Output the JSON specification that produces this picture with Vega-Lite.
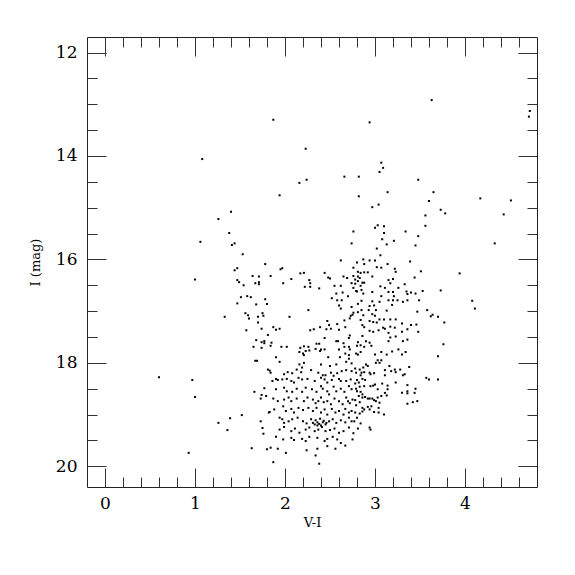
{
"$schema": "https://vega.github.io/schema/vega-lite/v6.json",
"width": 450, "height": 450,
"autosize": "none",
"padding": {"left": 87, "top": 37, "right": 38, "bottom": 88},
"background": "white",
"config": {"view": {"stroke": "#222", "strokeWidth": 1}, "font": "DejaVu Serif",
 "axis": {"grid": false, "domain": false, "labelFont": "DejaVu Serif", "titleFont": "DejaVu Serif", "tickColor": "#333", "tickWidth": 1, "labelColor": "black", "titleColor": "black", "titleFontWeight": "normal", "labelFlush": false, "labelOverlap": false}},
"data": {"values": [
{"vi":1.87,"mag":13.30},{"vi":2.23,"mag":13.86},{"vi":1.08,"mag":14.06},{"vi":2.24,"mag":14.46},{"vi":2.16,"mag":14.52},{"vi":1.94,"mag":14.76},{"vi":1.40,"mag":15.08},{"vi":1.26,"mag":15.22},{"vi":1.38,"mag":15.49},{"vi":1.06,"mag":15.66},{"vi":1.41,"mag":15.72},{"vi":1.44,"mag":15.69},
{"vi":2.94,"mag":13.35},{"vi":3.07,"mag":14.13},{"vi":3.09,"mag":14.23},{"vi":3.05,"mag":14.31},{"vi":2.66,"mag":14.40},{"vi":2.82,"mag":14.40},{"vi":3.48,"mag":14.46},{"vi":3.14,"mag":14.70},{"vi":3.65,"mag":14.70},{"vi":3.60,"mag":14.87},{"vi":2.82,"mag":14.78},{"vi":3.04,"mag":14.94},{"vi":2.97,"mag":14.99},{"vi":3.56,"mag":15.15},{"vi":3.56,"mag":15.35},{"vi":3.03,"mag":15.34},{"vi":3.00,"mag":15.39},{"vi":3.10,"mag":15.36},{"vi":2.76,"mag":15.46},{"vi":3.10,"mag":15.49},{"vi":3.34,"mag":15.46},{"vi":3.48,"mag":15.55},{"vi":2.74,"mag":15.69},{"vi":3.08,"mag":15.61},{"vi":3.21,"mag":15.64},{"vi":3.13,"mag":15.71},{"vi":3.45,"mag":15.73},{"vi":3.02,"mag":15.79},
{"vi":3.63,"mag":12.92},{"vi":4.72,"mag":13.13},{"vi":4.71,"mag":13.24},{"vi":4.17,"mag":14.82},{"vi":4.51,"mag":14.86},{"vi":3.73,"mag":15.04},{"vi":3.78,"mag":15.11},{"vi":4.43,"mag":15.13},{"vi":4.33,"mag":15.69},{"vi":3.94,"mag":16.27},{"vi":3.73,"mag":16.60},{"vi":4.08,"mag":16.80},{"vi":4.11,"mag":16.95},{"vi":3.64,"mag":17.07},{"vi":3.62,"mag":17.10},{"vi":3.70,"mag":17.11},{"vi":3.77,"mag":17.22},
{"vi":1.53,"mag":15.90},{"vi":1.78,"mag":16.09},{"vi":1.47,"mag":16.17},{"vi":1.44,"mag":16.21},{"vi":1.00,"mag":16.39},{"vi":1.64,"mag":16.32},{"vi":1.71,"mag":16.33},{"vi":1.47,"mag":16.40},{"vi":1.49,"mag":16.44},{"vi":1.67,"mag":16.46},{"vi":1.71,"mag":16.44},{"vi":1.71,"mag":16.48},{"vi":1.54,"mag":16.50},{"vi":1.51,"mag":16.73},{"vi":1.58,"mag":16.71},{"vi":1.62,"mag":16.73},{"vi":1.78,"mag":16.77},{"vi":1.47,"mag":16.85},{"vi":1.68,"mag":16.87},{"vi":1.80,"mag":16.86},{"vi":1.56,"mag":17.04},{"vi":1.59,"mag":17.08},{"vi":1.33,"mag":17.11},{"vi":1.60,"mag":17.14},{"vi":1.70,"mag":17.11},{"vi":1.75,"mag":17.04},{"vi":1.76,"mag":17.09},{"vi":1.70,"mag":17.22},{"vi":1.57,"mag":17.37},{"vi":1.74,"mag":17.34},{"vi":1.81,"mag":17.46},{"vi":1.68,"mag":17.56},{"vi":1.74,"mag":17.60},{"vi":1.77,"mag":17.58},{"vi":1.77,"mag":17.62},{"vi":1.65,"mag":17.69},{"vi":1.74,"mag":17.71},
{"vi":2.62,"mag":16.02},{"vi":2.80,"mag":16.06},{"vi":1.95,"mag":16.19},{"vi":1.97,"mag":16.17},{"vi":2.76,"mag":16.16},{"vi":2.81,"mag":16.24},{"vi":1.84,"mag":16.32},{"vi":2.17,"mag":16.27},{"vi":2.21,"mag":16.26},{"vi":2.44,"mag":16.26},{"vi":2.48,"mag":16.35},{"vi":2.50,"mag":16.37},{"vi":2.65,"mag":16.33},{"vi":2.69,"mag":16.36},{"vi":2.76,"mag":16.32},{"vi":2.81,"mag":16.33},{"vi":2.07,"mag":16.38},{"vi":2.27,"mag":16.40},{"vi":2.78,"mag":16.39},{"vi":2.81,"mag":16.42},{"vi":1.98,"mag":16.46},{"vi":2.28,"mag":16.46},{"vi":2.74,"mag":16.46},{"vi":2.78,"mag":16.47},{"vi":2.22,"mag":16.53},{"vi":2.28,"mag":16.53},{"vi":2.38,"mag":16.56},{"vi":2.55,"mag":16.51},{"vi":2.62,"mag":16.51},{"vi":2.76,"mag":16.55},{"vi":2.79,"mag":16.61},{"vi":2.80,"mag":16.62},{"vi":2.57,"mag":16.66},{"vi":2.64,"mag":16.64},{"vi":2.70,"mag":16.71},{"vi":2.52,"mag":16.75},{"vi":2.58,"mag":16.79},{"vi":2.63,"mag":16.79},{"vi":2.81,"mag":16.86},{"vi":2.60,"mag":16.89},{"vi":2.62,"mag":16.95},{"vi":2.74,"mag":16.92},{"vi":2.26,"mag":16.98},{"vi":2.76,"mag":17.03},{"vi":2.81,"mag":17.02},{"vi":2.05,"mag":17.11},{"vi":2.73,"mag":17.09},{"vi":2.75,"mag":17.07},{"vi":2.47,"mag":17.19},{"vi":2.66,"mag":17.18},{"vi":2.72,"mag":17.14},{"vi":2.58,"mag":17.25},{"vi":2.49,"mag":17.27},{"vi":2.39,"mag":17.31},{"vi":2.67,"mag":17.31},{"vi":1.87,"mag":17.31},{"vi":1.90,"mag":17.36},{"vi":1.94,"mag":17.34},{"vi":2.32,"mag":17.35},{"vi":2.28,"mag":17.37},{"vi":2.46,"mag":17.35},{"vi":2.51,"mag":17.34},{"vi":2.60,"mag":17.36},{"vi":2.72,"mag":17.47},{"vi":2.71,"mag":17.52},{"vi":2.44,"mag":17.52},{"vi":2.57,"mag":17.58},{"vi":2.59,"mag":17.58},{"vi":1.85,"mag":17.61},{"vi":2.35,"mag":17.63},{"vi":2.38,"mag":17.63},{"vi":2.65,"mag":17.62},{"vi":2.81,"mag":17.60},{"vi":1.84,"mag":17.67},{"vi":1.96,"mag":17.69},{"vi":2.02,"mag":17.69},{"vi":2.17,"mag":17.71},{"vi":2.21,"mag":17.68},{"vi":2.26,"mag":17.69},{"vi":2.34,"mag":17.73},{"vi":2.40,"mag":17.74},{"vi":2.44,"mag":17.74},{"vi":2.60,"mag":17.74},{"vi":2.66,"mag":17.69},{"vi":2.71,"mag":17.69},{"vi":2.72,"mag":17.74},{"vi":2.80,"mag":17.67},{"vi":1.90,"mag":17.89},{"vi":2.48,"mag":17.89},{"vi":2.61,"mag":17.89},
{"vi":3.06,"mag":15.92},{"vi":3.39,"mag":16.04},{"vi":2.87,"mag":16.00},{"vi":2.94,"mag":16.02},{"vi":2.88,"mag":16.09},{"vi":3.00,"mag":16.02},{"vi":3.02,"mag":16.15},{"vi":3.07,"mag":16.16},{"vi":3.14,"mag":16.09},{"vi":3.22,"mag":16.18},{"vi":3.23,"mag":16.24},{"vi":3.51,"mag":16.23},{"vi":2.84,"mag":16.26},{"vi":2.88,"mag":16.25},{"vi":2.92,"mag":16.25},{"vi":2.97,"mag":16.33},{"vi":3.15,"mag":16.40},{"vi":3.17,"mag":16.46},{"vi":3.20,"mag":16.38},{"vi":3.44,"mag":16.35},{"vi":3.33,"mag":16.48},{"vi":2.83,"mag":16.36},{"vi":2.86,"mag":16.45},{"vi":2.88,"mag":16.45},{"vi":2.84,"mag":16.51},{"vi":2.85,"mag":16.59},{"vi":2.87,"mag":16.66},{"vi":2.97,"mag":16.63},{"vi":3.06,"mag":16.52},{"vi":3.11,"mag":16.55},{"vi":3.15,"mag":16.63},{"vi":3.20,"mag":16.63},{"vi":3.26,"mag":16.55},{"vi":3.36,"mag":16.67},{"vi":3.40,"mag":16.64},{"vi":3.35,"mag":16.62},{"vi":3.45,"mag":16.66},{"vi":3.53,"mag":16.61},{"vi":3.07,"mag":16.71},{"vi":3.15,"mag":16.79},{"vi":3.20,"mag":16.79},{"vi":3.21,"mag":16.71},{"vi":3.25,"mag":16.79},{"vi":3.31,"mag":16.82},{"vi":3.36,"mag":16.79},{"vi":3.49,"mag":16.79},{"vi":3.05,"mag":16.82},{"vi":2.97,"mag":16.81},{"vi":2.85,"mag":16.80},{"vi":2.99,"mag":16.89},{"vi":2.94,"mag":16.90},{"vi":3.01,"mag":16.98},{"vi":2.85,"mag":16.98},{"vi":2.93,"mag":16.98},{"vi":3.13,"mag":16.99},{"vi":3.19,"mag":16.88},{"vi":3.47,"mag":17.01},{"vi":3.58,"mag":16.98},{"vi":2.87,"mag":17.08},{"vi":2.97,"mag":17.06},{"vi":3.00,"mag":17.09},{"vi":2.98,"mag":17.21},{"vi":3.02,"mag":17.22},{"vi":2.94,"mag":17.19},{"vi":3.05,"mag":17.16},{"vi":3.10,"mag":17.16},{"vi":3.17,"mag":17.16},{"vi":3.23,"mag":17.16},{"vi":2.84,"mag":17.17},{"vi":2.86,"mag":17.27},{"vi":2.88,"mag":17.31},{"vi":3.30,"mag":17.24},{"vi":3.40,"mag":17.27},{"vi":3.46,"mag":17.26},{"vi":3.48,"mag":17.40},{"vi":3.09,"mag":17.32},{"vi":3.11,"mag":17.34},{"vi":3.17,"mag":17.30},{"vi":3.22,"mag":17.32},{"vi":3.30,"mag":17.40},{"vi":3.36,"mag":17.35},{"vi":2.94,"mag":17.38},{"vi":2.98,"mag":17.40},{"vi":3.04,"mag":17.37},{"vi":3.15,"mag":17.42},{"vi":3.17,"mag":17.51},{"vi":3.15,"mag":17.58},{"vi":3.23,"mag":17.49},{"vi":3.36,"mag":17.55},{"vi":3.31,"mag":17.58},{"vi":2.86,"mag":17.48},{"vi":2.90,"mag":17.58},{"vi":2.94,"mag":17.61},{"vi":2.96,"mag":17.67},{"vi":2.88,"mag":17.69},{"vi":2.84,"mag":17.66},{"vi":3.76,"mag":17.64},{"vi":3.70,"mag":17.87},{"vi":3.07,"mag":17.79},{"vi":3.13,"mag":17.84},{"vi":3.19,"mag":17.78},{"vi":3.26,"mag":17.74},{"vi":3.30,"mag":17.84},{"vi":3.00,"mag":17.84},
{"vi":1.67,"mag":17.96},{"vi":1.69,"mag":17.96},{"vi":1.81,"mag":18.13},{"vi":0.97,"mag":18.33},{"vi":1.77,"mag":18.49},{"vi":1.66,"mag":18.56},{"vi":1.74,"mag":18.62},{"vi":1.79,"mag":18.64},{"vi":1.73,"mag":18.69},{"vi":1.00,"mag":18.66},{"vi":1.82,"mag":18.96},{"vi":1.52,"mag":19.01},{"vi":1.39,"mag":19.07},{"vi":1.26,"mag":19.16},{"vi":1.73,"mag":19.13},{"vi":1.75,"mag":19.26},{"vi":1.36,"mag":19.30},{"vi":1.76,"mag":19.37},{"vi":1.63,"mag":19.65},{"vi":1.80,"mag":19.67},{"vi":0.93,"mag":19.74},{"vi":0.60,"mag":18.28},
{"vi":2.16,"mag":17.79},{"vi":2.20,"mag":17.82},{"vi":2.23,"mag":17.77},{"vi":2.27,"mag":17.76},{"vi":2.21,"mag":17.85},{"vi":2.39,"mag":17.77},{"vi":2.67,"mag":17.82},{"vi":2.71,"mag":17.85},{"vi":2.71,"mag":17.92},{"vi":2.79,"mag":17.82},
{"vi":1.94,"mag":17.98},{"vi":2.16,"mag":18.03},{"vi":2.21,"mag":18.00},{"vi":2.19,"mag":18.09},{"vi":2.40,"mag":18.03},{"vi":2.50,"mag":18.06},{"vi":2.57,"mag":18.03},{"vi":2.68,"mag":17.98},{"vi":2.74,"mag":18.01},
{"vi":1.83,"mag":18.15},{"vi":1.84,"mag":18.19},{"vi":1.99,"mag":18.22},{"vi":2.03,"mag":18.18},{"vi":2.08,"mag":18.20},{"vi":2.13,"mag":18.13},{"vi":2.18,"mag":18.18},{"vi":2.29,"mag":18.14},{"vi":2.37,"mag":18.19},{"vi":2.45,"mag":18.24},{"vi":2.51,"mag":18.19},{"vi":2.58,"mag":18.20},{"vi":2.63,"mag":18.16},{"vi":2.68,"mag":18.14},{"vi":2.74,"mag":18.16},
{"vi":1.86,"mag":18.35},{"vi":1.90,"mag":18.31},{"vi":1.92,"mag":18.33},{"vi":1.97,"mag":18.32},{"vi":2.02,"mag":18.31},{"vi":2.07,"mag":18.35},{"vi":2.10,"mag":18.38},{"vi":2.15,"mag":18.29},{"vi":2.19,"mag":18.32},{"vi":2.25,"mag":18.31},{"vi":2.33,"mag":18.35},{"vi":2.40,"mag":18.29},{"vi":2.42,"mag":18.24},{"vi":2.44,"mag":18.32},{"vi":2.47,"mag":18.38},{"vi":2.52,"mag":18.33},{"vi":2.54,"mag":18.25},{"vi":2.60,"mag":18.31},{"vi":2.62,"mag":18.35},{"vi":2.68,"mag":18.35},{"vi":2.73,"mag":18.32},
{"vi":1.90,"mag":18.51},{"vi":1.99,"mag":18.48},{"vi":2.02,"mag":18.55},{"vi":2.08,"mag":18.56},{"vi":2.13,"mag":18.50},{"vi":2.19,"mag":18.56},{"vi":2.23,"mag":18.48},{"vi":2.30,"mag":18.51},{"vi":2.35,"mag":18.56},{"vi":2.40,"mag":18.45},{"vi":2.42,"mag":18.50},{"vi":2.47,"mag":18.55},{"vi":2.49,"mag":18.61},{"vi":2.54,"mag":18.46},{"vi":2.57,"mag":18.55},{"vi":2.62,"mag":18.50},{"vi":2.66,"mag":18.56},{"vi":2.71,"mag":18.45},{"vi":2.74,"mag":18.51},
{"vi":1.87,"mag":18.69},{"vi":1.92,"mag":18.74},{"vi":1.99,"mag":18.71},{"vi":2.04,"mag":18.67},{"vi":2.07,"mag":18.74},{"vi":2.13,"mag":18.69},{"vi":2.21,"mag":18.74},{"vi":2.25,"mag":18.67},{"vi":2.31,"mag":18.71},{"vi":2.34,"mag":18.78},{"vi":2.37,"mag":18.74},{"vi":2.40,"mag":18.67},{"vi":2.43,"mag":18.76},{"vi":2.47,"mag":18.74},{"vi":2.51,"mag":18.80},{"vi":2.55,"mag":18.69},{"vi":2.60,"mag":18.74},{"vi":2.64,"mag":18.80},{"vi":2.68,"mag":18.67},{"vi":2.70,"mag":18.74},{"vi":2.72,"mag":18.78},{"vi":2.75,"mag":18.71},
{"vi":1.88,"mag":18.90},{"vi":1.98,"mag":18.84},{"vi":2.01,"mag":18.93},{"vi":2.07,"mag":18.89},{"vi":2.10,"mag":18.96},{"vi":2.15,"mag":18.87},{"vi":2.20,"mag":18.91},{"vi":2.26,"mag":18.87},{"vi":2.31,"mag":18.93},{"vi":2.35,"mag":18.87},{"vi":2.40,"mag":18.96},{"vi":2.44,"mag":18.90},{"vi":2.47,"mag":19.00},{"vi":2.52,"mag":18.89},{"vi":2.56,"mag":18.96},{"vi":2.60,"mag":18.93},{"vi":2.65,"mag":19.00},{"vi":2.67,"mag":18.89},{"vi":2.71,"mag":18.96},{"vi":2.74,"mag":18.93},{"vi":1.83,"mag":18.95},
{"vi":1.94,"mag":19.06},{"vi":1.97,"mag":19.09},{"vi":1.99,"mag":19.16},{"vi":2.04,"mag":19.13},{"vi":2.08,"mag":19.09},{"vi":2.14,"mag":19.06},{"vi":2.20,"mag":19.13},{"vi":2.24,"mag":19.17},{"vi":2.29,"mag":19.09},{"vi":2.31,"mag":19.16},{"vi":2.34,"mag":19.11},{"vi":2.36,"mag":19.15},{"vi":2.39,"mag":19.08},{"vi":2.42,"mag":19.15},{"vi":2.45,"mag":19.19},{"vi":2.49,"mag":19.13},{"vi":2.53,"mag":19.09},{"vi":2.57,"mag":19.16},{"vi":2.62,"mag":19.11},{"vi":2.67,"mag":19.15},{"vi":2.71,"mag":19.06},{"vi":2.74,"mag":19.13},{"vi":2.84,"mag":19.17},
{"vi":2.38,"mag":19.18},{"vi":2.40,"mag":19.21},{"vi":2.43,"mag":19.12},{"vi":2.36,"mag":19.21},{"vi":2.46,"mag":19.16},{"vi":2.33,"mag":19.19},
{"vi":1.94,"mag":19.29},{"vi":1.99,"mag":19.24},{"vi":2.07,"mag":19.32},{"vi":2.11,"mag":19.27},{"vi":2.16,"mag":19.35},{"vi":2.23,"mag":19.29},{"vi":2.27,"mag":19.25},{"vi":2.33,"mag":19.32},{"vi":2.37,"mag":19.29},{"vi":2.41,"mag":19.24},{"vi":2.45,"mag":19.32},{"vi":2.50,"mag":19.30},{"vi":2.55,"mag":19.27},{"vi":2.60,"mag":19.35},{"vi":2.65,"mag":19.32},{"vi":2.71,"mag":19.25},{"vi":2.76,"mag":19.36},
{"vi":1.90,"mag":19.43},{"vi":1.98,"mag":19.48},{"vi":2.07,"mag":19.45},{"vi":2.10,"mag":19.49},{"vi":2.19,"mag":19.47},{"vi":2.23,"mag":19.51},{"vi":2.27,"mag":19.43},{"vi":2.36,"mag":19.45},{"vi":2.44,"mag":19.51},{"vi":2.47,"mag":19.47},{"vi":2.53,"mag":19.43},{"vi":2.58,"mag":19.48},{"vi":2.62,"mag":19.55},{"vi":2.67,"mag":19.60},{"vi":2.75,"mag":19.48},
{"vi":1.84,"mag":19.64},{"vi":1.92,"mag":19.66},{"vi":2.01,"mag":19.74},{"vi":2.24,"mag":19.69},{"vi":2.36,"mag":19.66},{"vi":2.47,"mag":19.61},{"vi":2.56,"mag":19.66},
{"vi":1.87,"mag":19.92},{"vi":2.34,"mag":19.79},{"vi":2.38,"mag":19.95},
{"vi":2.81,"mag":17.84},{"vi":2.84,"mag":17.79},{"vi":3.34,"mag":17.79},
{"vi":2.78,"mag":18.11},{"vi":2.83,"mag":18.13},{"vi":2.87,"mag":18.09},{"vi":2.90,"mag":18.03},{"vi":2.92,"mag":18.06},{"vi":3.01,"mag":18.00},{"vi":3.05,"mag":18.00},{"vi":3.03,"mag":17.95},{"vi":3.07,"mag":17.95},{"vi":3.11,"mag":18.14},{"vi":3.16,"mag":18.06},{"vi":3.18,"mag":18.16},{"vi":3.22,"mag":18.13},{"vi":3.23,"mag":18.18},{"vi":3.28,"mag":18.13},{"vi":3.38,"mag":18.08},{"vi":3.33,"mag":18.22},{"vi":3.31,"mag":18.24},{"vi":3.57,"mag":18.29},{"vi":3.60,"mag":18.32},{"vi":3.70,"mag":18.32},
{"vi":2.79,"mag":18.19},{"vi":2.85,"mag":18.19},{"vi":2.88,"mag":18.18},{"vi":2.84,"mag":18.24},{"vi":2.86,"mag":18.31},{"vi":2.89,"mag":18.33},{"vi":2.94,"mag":18.19},{"vi":2.95,"mag":18.22},{"vi":2.99,"mag":18.20},{"vi":2.80,"mag":18.33},{"vi":2.82,"mag":18.38},{"vi":3.11,"mag":18.24},{"vi":3.23,"mag":18.38},
{"vi":2.78,"mag":18.40},{"vi":2.79,"mag":18.50},{"vi":2.83,"mag":18.46},{"vi":2.88,"mag":18.45},{"vi":2.95,"mag":18.45},{"vi":2.98,"mag":18.44},{"vi":3.00,"mag":18.42},{"vi":3.03,"mag":18.51},{"vi":3.08,"mag":18.40},{"vi":3.14,"mag":18.44},{"vi":3.14,"mag":18.51},{"vi":3.36,"mag":18.43},{"vi":3.45,"mag":18.50},
{"vi":2.80,"mag":18.55},{"vi":2.84,"mag":18.56},{"vi":2.86,"mag":18.61},{"vi":2.82,"mag":18.64},{"vi":2.78,"mag":18.72},{"vi":2.83,"mag":18.76},{"vi":2.86,"mag":18.67},{"vi":2.89,"mag":18.66},{"vi":2.92,"mag":18.69},{"vi":2.94,"mag":18.69},{"vi":2.97,"mag":18.69},{"vi":2.99,"mag":18.72},{"vi":3.01,"mag":18.74},{"vi":3.03,"mag":18.67},{"vi":3.07,"mag":18.64},{"vi":3.11,"mag":18.58},{"vi":3.13,"mag":18.63},{"vi":3.30,"mag":18.58},{"vi":3.36,"mag":18.55},{"vi":3.36,"mag":18.59},{"vi":3.44,"mag":18.58},{"vi":3.47,"mag":18.74},{"vi":3.42,"mag":18.76},{"vi":3.36,"mag":18.79},{"vi":3.05,"mag":18.77},
{"vi":2.79,"mag":18.82},{"vi":2.86,"mag":18.87},{"vi":2.88,"mag":18.90},{"vi":2.92,"mag":18.85},{"vi":2.96,"mag":18.84},{"vi":2.94,"mag":18.90},{"vi":2.86,"mag":18.94},{"vi":2.83,"mag":18.98},{"vi":2.78,"mag":18.96},{"vi":2.99,"mag":18.95},{"vi":3.04,"mag":18.87},{"vi":3.04,"mag":18.96},{"vi":3.10,"mag":19.00},{"vi":2.80,"mag":19.06},{"vi":2.77,"mag":19.13},{"vi":2.81,"mag":19.27},{"vi":2.94,"mag":19.25},{"vi":2.95,"mag":19.29}
]},
"layer": [
{"mark": {"type": "square", "size": 4, "color": "black", "opacity": 1},
 "encoding": {
  "x": {"field": "vi", "type": "quantitative", "scale": {"domain": [-0.2, 4.8], "nice": false, "zero": false},
        "axis": {"orient": "bottom", "values": [0,1,2,3,4], "ticks": false, "labelPadding": 8, "labelFontSize": 17, "title": "V-I", "titleFontSize": 13, "titlePadding": 5}},
  "y": {"field": "mag", "type": "quantitative", "scale": {"domain": [11.7, 20.4], "reverse": true, "nice": false, "zero": false},
        "axis": {"orient": "left", "values": [12,14,16,18,20], "ticks": false, "labelPadding": 10, "labelFontSize": 17, "title": "I (mag)", "titleFontSize": 13, "titlePadding": 13}}}},
{"mark": {"type": "square", "size": 4, "opacity": 0},
 "encoding": {
  "x": {"field": "vi", "type": "quantitative", "axis": {"orient": "bottom", "values": [0,1,2,3,4], "labels": false, "title": null, "tickSize": -19}},
  "y": {"field": "mag", "type": "quantitative", "axis": {"orient": "left", "values": [12,14,16,18,20], "labels": false, "title": null, "tickSize": -19}}}},
{"mark": {"type": "square", "size": 4, "opacity": 0},
 "encoding": {
  "x": {"field": "vi", "type": "quantitative", "axis": {"orient": "bottom", "values": [0,0.2,0.4,0.6,0.8,1,1.2,1.4,1.6,1.8,2,2.2,2.4,2.6,2.8,3,3.2,3.4,3.6,3.8,4,4.2,4.4,4.6], "labels": false, "title": null, "tickSize": -10}},
  "y": {"field": "mag", "type": "quantitative", "axis": {"orient": "left", "values": [12,12.5,13,13.5,14,14.5,15,15.5,16,16.5,17,17.5,18,18.5,19,19.5,20], "labels": false, "title": null, "tickSize": -10}}}},
{"mark": {"type": "square", "size": 4, "opacity": 0},
 "encoding": {
  "x": {"field": "vi", "type": "quantitative", "axis": {"orient": "top", "values": [0,1,2,3,4], "labels": false, "title": null, "tickSize": -19}},
  "y": {"field": "mag", "type": "quantitative", "axis": {"orient": "right", "values": [12,14,16,18,20], "labels": false, "title": null, "tickSize": -19}}}},
{"mark": {"type": "square", "size": 4, "opacity": 0},
 "encoding": {
  "x": {"field": "vi", "type": "quantitative", "axis": {"orient": "top", "values": [0,0.2,0.4,0.6,0.8,1,1.2,1.4,1.6,1.8,2,2.2,2.4,2.6,2.8,3,3.2,3.4,3.6,3.8,4,4.2,4.4,4.6], "labels": false, "title": null, "tickSize": -10}},
  "y": {"field": "mag", "type": "quantitative", "axis": {"orient": "right", "values": [12,12.5,13,13.5,14,14.5,15,15.5,16,16.5,17,17.5,18,18.5,19,19.5,20], "labels": false, "title": null, "tickSize": -10}}}}
],
"resolve": {"axis": {"x": "independent", "y": "independent"}}
}
